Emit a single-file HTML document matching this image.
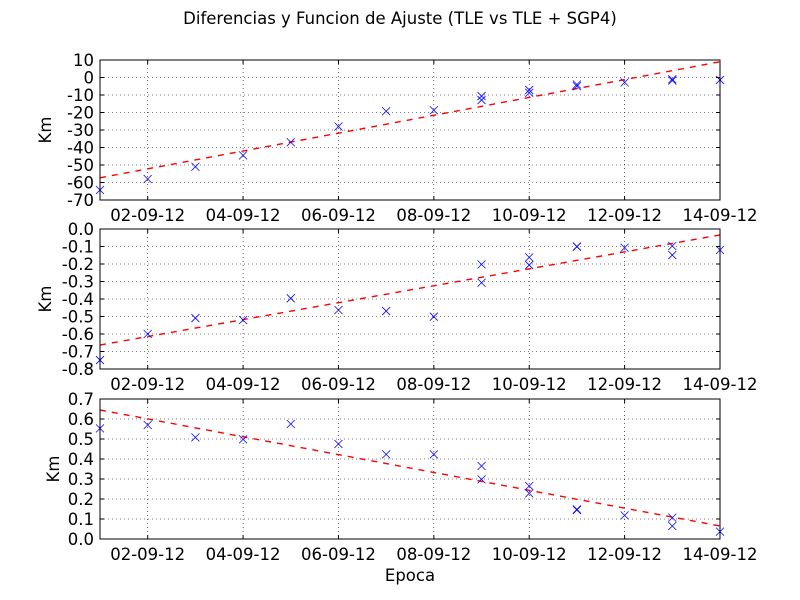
<!DOCTYPE html>
<html><head><meta charset="utf-8"><style>
body{margin:0;background:#fff}
svg{display:block}
text{font-family:"DejaVu Sans","Liberation Sans",sans-serif;font-size:16.5px;fill:#000}
</style></head><body>
<svg id="c" width="800" height="600">
<text x="400" y="24" text-anchor="middle">Diferencias y Funcion de Ajuste (TLE vs TLE + SGP4)</text>
<text x="410" y="581" text-anchor="middle">Epoca</text>
</svg>
<script>
const xTickDays=[2,4,6,8,10,12,14];
const xTickLabels=["02-09-12","04-09-12","06-09-12","08-09-12","10-09-12","12-09-12","14-09-12"];
const days1=[1,2,3,4,5,6,7,8,9,9,10,10,11,11,12,13,13,14];
const vals1=[-64.3,-58,-51,-44.5,-37,-28,-19.3,-18.7,-10.6,-12.9,-7.1,-8.7,-4,-5,-2.8,-1,-1.8,-1.4];
const fit1=[-57.3,9];
const days2=[1,2,3,4,5,6,7,8,9,9,10,10,11,11,12,13,13,14];
const vals2=[-0.749,-0.6,-0.509,-0.52,-0.396,-0.463,-0.469,-0.501,-0.202,-0.307,-0.162,-0.206,-0.101,-0.1,-0.107,-0.097,-0.149,-0.12];
const fit2=[-0.663,-0.034];
const days3=[1,2,3,4,5,6,7,8,9,9,10,10,11,11,12,13,13,14];
const vals3=[0.553,0.57,0.508,0.498,0.575,0.475,0.423,0.423,0.365,0.298,0.265,0.228,0.145,0.148,0.118,0.107,0.065,0.037];
const fit3=[0.645,0.065];
const yTicks1=[10,0,-10,-20,-30,-40,-50,-60,-70];
const yTicks2=[0.0,-0.1,-0.2,-0.3,-0.4,-0.5,-0.6,-0.7,-0.8];
const yTicks3=[0.7,0.6,0.5,0.4,0.3,0.2,0.1,0.0];

const svg=document.getElementById('c');
const NS='http://www.w3.org/2000/svg';
function mk(t,a,p){const e=document.createElementNS(NS,t);for(const k in a)e.setAttribute(k,a[k]);(p||svg).appendChild(e);return e;}
const X0=100,X1=720;
function xs(d){return X0+(d-1)/13*(X1-X0);}

function panel(name,top,bot,ymin,ymax,ticks,dec,days,vals,fit){
  const g=mk('g',{});
  
  
  const ys=v=>bot-(v-ymin)/(ymax-ymin)*(bot-top);
  xTickDays.forEach(d=>{const l=mk('line',{x1:xs(d),x2:xs(d),y1:top,y2:bot,stroke:'#000','stroke-width':0.6,'stroke-dasharray':'1,3'},g);
    });
  ticks.forEach(v=>{const l=mk('line',{x1:X0,x2:X1,y1:ys(v),y2:ys(v),stroke:'#000','stroke-width':0.6,'stroke-dasharray':'1,3'},g);
    });
  const f=mk('line',{x1:xs(1),y1:ys(fit[0]),x2:xs(14),y2:ys(fit[1]),stroke:'#f00','stroke-width':1.4,'stroke-dasharray':'6,6'},g);
  
  days.forEach((d,i)=>{const cx=xs(d),cy=ys(vals[i]),s=4;
    const p=mk('path',{d:`M${cx-s},${cy-s}L${cx+s},${cy+s}M${cx-s},${cy+s}L${cx+s},${cy-s}`,stroke:'#00f','stroke-width':0.8,fill:'none'},g);
    });
  const r=mk('rect',{x:X0,y:top,width:X1-X0,height:bot-top,fill:'none',stroke:'#000','stroke-width':1},g);
  
  xTickDays.forEach((d,i)=>{mk('line',{x1:xs(d),x2:xs(d),y1:bot,y2:bot-4,stroke:'#000'},g);mk('line',{x1:xs(d),x2:xs(d),y1:top,y2:top+4,stroke:'#000'},g);
    const t=mk('text',{x:xs(d),y:bot+21,'text-anchor':'middle'},g);t.textContent=xTickLabels[i];
    });
  ticks.forEach(v=>{mk('line',{x1:X0,x2:X0+4,y1:ys(v),y2:ys(v),stroke:'#000'},g);mk('line',{x1:X1,x2:X1-4,y1:ys(v),y2:ys(v),stroke:'#000'},g);
    const t=mk('text',{x:94,y:ys(v)+6,'text-anchor':'end'},g);t.textContent=v.toFixed(dec);
    });
  const yl=mk('text',{x:0,y:0,'text-anchor':'middle',transform:`translate(${name==='panel-3'?59:51},${(top+bot)/2}) rotate(-90)`},g);
  yl.textContent='Km';
  
}
panel('panel-1',60,200,-70,10,yTicks1,0,days1,vals1,fit1);
panel('panel-2',229,369,-0.8,0,yTicks2,1,days2,vals2,fit2);
panel('panel-3',399,539,0,0.7,yTicks3,1,days3,vals3,fit3);
</script>
</body></html>
